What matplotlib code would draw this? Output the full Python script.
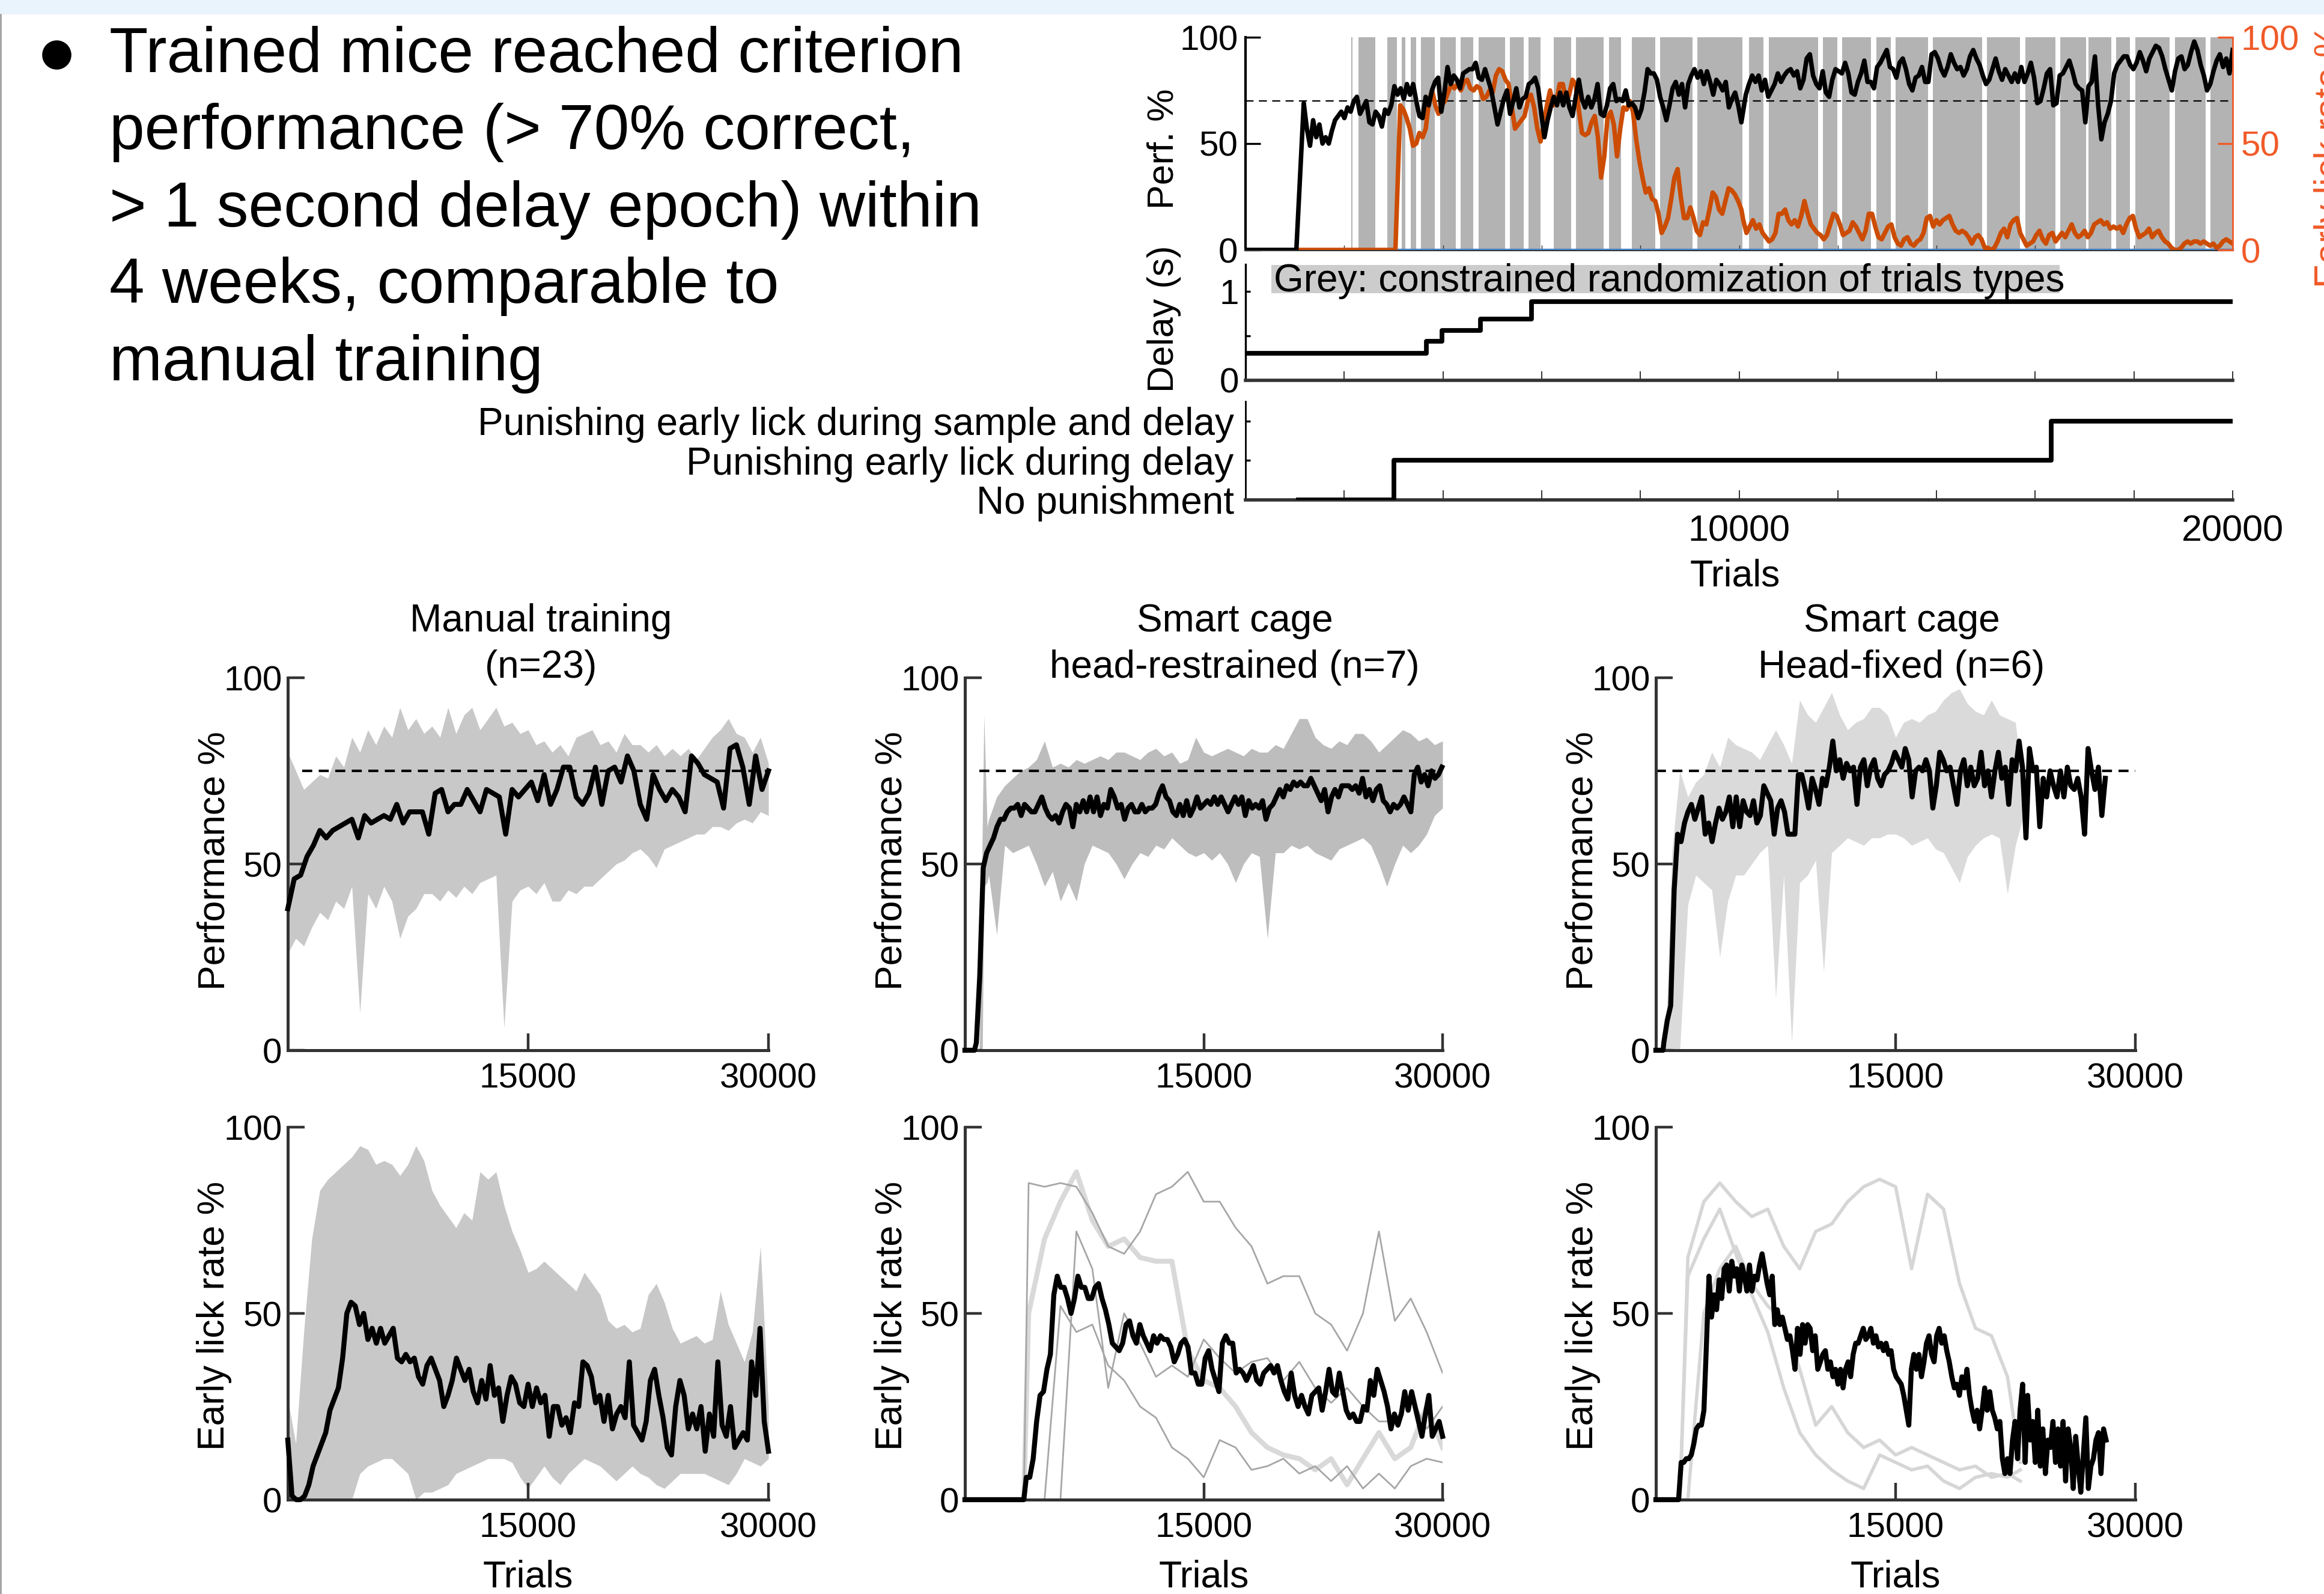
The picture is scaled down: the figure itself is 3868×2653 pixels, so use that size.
import numpy as np
import matplotlib.pyplot as plt
from matplotlib.lines import Line2D
from matplotlib.patches import Rectangle

plt.rcParams['font.family'] = ['Liberation Sans', 'DejaVu Sans']

# ---------------- text ----------------
bullet_lines = ["Trained mice reached criterion",
                "performance (> 70% correct,",
                "> 1 second delay epoch) within",
                "4 weeks, comparable to",
                "manual training"]
grey_note = "Grey: constrained randomization of trials types"
titles = [("Manual training", "(n=23)"),
          ("Smart cage", "head-restrained (n=7)"),
          ("Smart cage", "Head-fixed (n=6)")]

# ---------------- example mouse (top) ----------------
# grey = constrained randomization blocks (trial ranges)
band_start = [2144, 2287, 2874, 3167, 3343, 3558, 3943, 4354, 4719, 5358, 5730, 6245, 6701, 7360, 7822,
              8403, 9153, 10195, 10605, 11694, 12092, 12777, 13168, 13924, 15020, 15802, 16506, 17080,
              17634, 18025, 18834, 19551]
band_end = [2170, 2633, 3069, 3232, 3461, 3839, 4263, 4615, 5254, 5632, 5977, 6603, 7255, 7607, 8305,
            9055, 10071, 10495, 11596, 11994, 12672, 13070, 13826, 14922, 15691, 16408, 17028, 17536,
            17921, 18716, 19447, 20000]

perf_early = [69, 57, 49, 61, 53, 59, 50, 53, 50, 56, 61, 63, 65, 62, 67, 65, 70, 72, 64, 67, 70, 60, 59, 65,
              63, 58, 66, 64, 68, 77, 73, 76, 71, 78, 73, 78, 70, 63, 62, 72, 68, 75, 79, 81, 65, 74, 86, 78,
              82, 80, 76, 83, 84, 85, 85, 88, 81, 80, 85, 80, 75, 67, 59, 65, 71, 75, 64, 70, 76, 67, 71, 72,
              78, 79, 81, 76, 64, 53, 61, 67, 72, 68, 74, 68, 74, 67, 63, 72, 80, 71, 67, 72, 67, 71, 78, 64,
              63, 68, 76, 78, 70, 71, 70, 75, 68, 69, 67, 62, 66, 74, 85, 83, 83, 80, 72, 67, 61, 68, 76, 79,
              73, 78, 67, 78, 82, 85, 81, 84, 78, 84, 79, 73, 80, 78, 75, 79, 67, 71, 74, 68, 60]
perf_late = [73, 78, 82, 79, 82, 75, 80, 72, 75, 78, 83, 79, 82, 84, 85, 82, 84, 76, 80, 90, 92, 82, 78, 76,
             84, 74, 72, 80, 85, 84, 83, 88, 83, 74, 73, 79, 83, 89, 79, 79, 76, 86, 88, 91, 94, 86, 85, 81,
             88, 90, 85, 78, 75, 81, 82, 86, 79, 79, 92, 93, 90, 85, 82, 86, 92, 88, 85, 86, 82, 85, 91, 94,
             90, 87, 82, 78, 80, 85, 90, 84, 80, 85, 82, 79, 83, 79, 86, 79, 83, 88, 81, 69, 70, 76, 83, 85,
             68, 69, 82, 83, 86, 89, 84, 78, 76, 75, 60, 77, 79, 91, 68, 52, 60, 64, 70, 83, 87, 89, 91, 91,
             87, 85, 88, 93, 89, 84, 90, 93, 96, 95, 91, 85, 80, 75, 84, 90, 91, 85, 87, 93, 98, 94, 87, 82,
             75, 78, 84, 89, 92, 86, 90, 83, 94]
lick_early = [68, 66, 62, 57, 49, 50, 55, 53, 57, 70, 75, 68, 64, 68, 70, 74, 78, 76, 78, 75, 79, 80, 76, 75,
              77, 76, 71, 72, 75, 74, 82, 85, 84, 80, 78, 67, 57, 59, 61, 63, 70, 73, 67, 57, 51, 59, 68, 75,
              68, 70, 78, 78, 70, 73, 80, 78, 66, 55, 54, 55, 60, 63, 53, 34, 44, 62, 65, 59, 44, 57, 67, 66,
              70, 65, 52, 42, 34, 27, 29, 24, 23, 17, 8, 11, 15, 24, 34, 38, 25, 15, 15, 20, 15, 9, 7, 13,
              12, 19, 27, 25, 19, 17, 23, 29, 28, 26, 23, 19]
lick_late = [14, 8, 11, 14, 10, 12, 8, 6, 4, 5, 8, 17, 17, 19, 14, 12, 14, 11, 16, 23, 17, 12, 10, 8, 7, 5, 7,
             12, 17, 16, 12, 7, 8, 9, 13, 11, 8, 5, 9, 17, 17, 11, 6, 5, 8, 11, 12, 6, 3, 2, 5, 6, 3, 2, 4, 5,
             8, 15, 16, 11, 14, 12, 14, 15, 16, 12, 9, 8, 9, 8, 6, 3, 6, 7, 5, 1, 1, 0, 1, 4, 8, 10, 6, 12, 14,
             15, 8, 5, 2, 3, 4, 7, 9, 5, 3, 7, 8, 4, 6, 8, 6, 9, 12, 8, 6, 7, 9, 6, 8, 12, 13, 14, 12, 13, 10,
             11, 10, 11, 8, 12, 15, 16, 10, 6, 7, 8, 10, 6, 8, 9, 6, 4, 3, 1, 0, 0, 1, 3, 4, 3, 4, 4, 3, 4, 3,
             2, 3, 1, 2, 4, 5, 4, 3]
# (first trial, last trial, values)
top_perf_segs = [(0, 1030, [0, 0]), (1180, 10046, perf_early), (10136, 20000, perf_late)]
top_lick_segs = [(1030, 3037, [0, 0]), (3135, 10046, lick_early), (10084, 20000, lick_late)]
top_criterion = 70

delay_trials = [0, 3665, 3980, 4760, 5795, 20000]
delay_sec = [0.3, 0.44, 0.56, 0.69, 0.88, 0.88]

pun_trials = [1070, 3005, 16320, 20000]
pun_level = [0, 1, 2, 2]
pun_labels = ["No punishment", "Punishing early lick during delay",
              "Punishing early lick during sample and delay"]

# ---------------- group curves (bottom) ----------------
criterion = 75

man_perf_mean = [38, 46, 47, 52, 55, 59, 57, 59, 60, 61, 62, 57, 63, 61, 62, 63, 62, 66, 61, 64, 64, 64, 58,
                 69, 70, 64, 66, 66, 70, 67, 64, 70, 69, 68, 58, 70, 68, 70, 72, 67, 74, 66, 70, 76, 76, 68,
                 66, 69, 76, 66, 75, 76, 72, 79, 75, 66, 62, 74, 70, 67, 70, 68, 64, 79, 77, 74, 73, 72, 65,
                 81, 82, 76, 66, 79, 70, 75]
man_env_x = list(range(0, 30001, 500))
man_perf_hi = [80, 75, 70, 72, 74, 73, 79, 76, 84, 80, 86, 82, 87, 84, 92, 86, 89, 85, 87, 84, 92, 85, 90, 92,
               86, 89, 92, 87, 88, 85, 86, 82, 83, 80, 82, 79, 84, 85, 86, 82, 83, 80, 85, 82, 82, 80, 82,
               79, 81, 79, 81, 78, 81, 84, 86, 89, 85, 84, 80, 84, 77]
man_perf_lo = [26, 30, 28, 33, 37, 35, 40, 38, 44, 10, 42, 38, 44, 40, 30, 36, 38, 42, 42, 40, 43, 41, 44, 42,
               45, 46, 47, 6, 40, 43, 44, 42, 45, 40, 40, 43, 42, 44, 44, 46, 48, 50, 51, 53, 54, 52, 49, 54,
               55, 56, 57, 58, 58, 60, 60, 59, 61, 62, 61, 64, 63]
man_lick_mean = [16, 1, 0, 0, 1, 4, 9, 12, 15, 18, 24, 27, 30, 38, 50, 53, 52, 47, 50, 43, 46, 42, 46, 42, 44,
                 46, 38, 37, 39, 37, 38, 33, 31, 36, 38, 35, 32, 25, 28, 32, 38, 35, 32, 35, 29, 26, 32, 27,
                 36, 28, 30, 21, 28, 33, 31, 26, 25, 31, 25, 30, 26, 28, 17, 25, 25, 20, 22, 18, 26, 25, 37,
                 36, 33, 26, 28, 21, 28, 19, 23, 25, 22, 37, 20, 18, 16, 21, 32, 35, 28, 22, 14, 12, 25, 32,
                 28, 19, 23, 19, 25, 13, 23, 17, 37, 20, 17, 25, 14, 16, 18, 16, 37, 28, 46, 21, 13]
man_lick_hi = [27, 15, 45, 70, 83, 86, 88, 90, 92, 95, 94, 90, 91, 90, 87, 90, 95, 91, 83, 79, 76, 73, 77, 75,
               88, 86, 88, 79, 72, 67, 61, 62, 64, 62, 60, 58, 56, 61, 58, 55, 48, 46, 47, 45, 46, 55, 58,
               53, 46, 42, 43, 44, 42, 43, 56, 47, 42, 37, 45, 68, 25]
man_lick_lo = [0, 0, 0, 0, 0, 0, 0, 0, 0, 7, 9, 10, 11, 11, 9, 7, 0, 2, 2, 3, 4, 7, 8, 9, 10, 11, 11, 11, 10, 6,
               3, 6, 9, 6, 4, 7, 9, 11, 10, 9, 7, 5, 7, 9, 7, 6, 4, 3, 5, 7, 7, 7, 7, 6, 5, 4, 7, 11, 10, 9,
               11]

hr_perf_mean = [2, 20, 49, 53, 55, 57, 60, 62, 62, 64, 65, 65, 66, 63, 66, 65, 64, 64, 66, 68, 65, 63, 62, 63,
                61, 64, 66, 65, 60, 66, 64, 67, 64, 68, 64, 68, 63, 66, 65, 70, 68, 65, 66, 62, 65, 66, 64,
                64, 66, 64, 65, 65, 66, 69, 71, 68, 67, 64, 63, 66, 63, 67, 63, 65, 68, 65, 66, 67, 66, 68,
                66, 68, 66, 64, 66, 68, 66, 68, 63, 67, 65, 66, 65, 67, 62, 65, 66, 68, 70, 68, 71, 70, 72,
                71, 72, 71, 71, 73, 71, 69, 67, 70, 64, 68, 70, 68, 71, 71, 71, 70, 71, 69, 73, 68, 70, 67,
                70, 71, 67, 66, 64, 66, 65, 66, 68, 66, 64, 74, 76, 72, 74, 71, 75, 73, 74, 76]
hr_env_x = [900, 1100, 1200, 1400] + list(range(1500, 30001, 500))
hr_perf_hi = [0, 60, 90, 60, 62, 68, 71, 73, 75, 76, 78, 83, 76, 77, 76, 78, 77, 78, 79, 78, 80, 80, 79, 78,
              80, 81, 79, 80, 77, 78, 84, 80, 79, 80, 81, 80, 79, 81, 80, 80, 82, 81, 85, 89, 89, 84, 82, 81,
              83, 82, 85, 85, 83, 80, 82, 84, 86, 85, 83, 84, 82, 83]
hr_perf_lo = [0, 0, 44, 45, 47, 31, 55, 53, 54, 55, 50, 44, 48, 40, 45, 40, 50, 55, 54, 53, 50, 46, 50, 53,
              52, 55, 54, 57, 55, 53, 52, 53, 51, 53, 50, 45, 50, 53, 52, 30, 53, 53, 55, 54, 55, 53, 52, 51,
              54, 55, 56, 57, 55, 50, 44, 50, 55, 53, 55, 58, 63, 65]
hr_lick_mean = [6, 6, 11, 21, 28, 29, 35, 39, 55, 60, 57, 57, 54, 50, 54, 60, 57, 57, 54, 54, 57, 58, 54, 51,
                47, 42, 41, 40, 42, 47, 48, 44, 42, 47, 44, 42, 40, 44, 42, 44, 43, 43, 41, 37, 39, 42, 43,
                41, 34, 34, 31, 31, 38, 40, 35, 32, 29, 42, 44, 42, 42, 34, 35, 34, 32, 34, 36, 32, 31, 34,
                35, 36, 34, 36, 32, 29, 27, 34, 28, 25, 28, 25, 23, 28, 29, 30, 24, 29, 35, 29, 28, 34, 29,
                24, 22, 23, 21, 21, 25, 24, 32, 28, 35, 32, 29, 25, 19, 23, 20, 23, 29, 24, 29, 25, 21, 17,
                23, 28, 17, 19, 21, 17]
hr_lick_grey_x = [3700] + list(range(4000, 30001, 1000))
hr_lick_grey = [
    [0, 85, 84, 85, 84, 77, 68, 66, 72, 82, 84, 88, 80, 80, 73, 68, 58, 60, 60, 50, 47, 40, 50, 72, 48, 54, 45, 34],
    [0, 0, 0, 52, 45, 47, 36, 32, 25, 22, 14, 11, 6, 16, 14, 8, 9, 11, 7, 9, 5, 9, 3, 7, 3, 9, 11, 10],
    [0, 0, 0, 0, 72, 62, 30, 50, 42, 33, 36, 33, 43, 38, 34, 37, 38, 32, 37, 30, 26, 30, 25, 21, 21, 28, 19, 25],
]
hr_lick_grey_light = [0, 50, 70, 80, 88, 75, 68, 70, 65, 64, 64, 40, 32, 30, 25, 18, 14, 12, 11, 8, 11, 4, 11,
                      18, 11, 14, 25, 14]

hf_perf_mean = [2, 8, 12, 43, 58, 56, 61, 64, 66, 62, 65, 68, 58, 61, 56, 61, 65, 62, 64, 68, 60, 68, 60, 67,
                64, 63, 67, 61, 63, 71, 69, 67, 58, 65, 67, 64, 58, 58, 58, 74, 74, 70, 65, 73, 70, 66, 73,
                71, 76, 83, 75, 78, 73, 77, 75, 76, 66, 76, 78, 71, 76, 78, 73, 71, 74, 75, 77, 80, 78, 76,
                81, 78, 68, 75, 76, 75, 78, 75, 65, 71, 80, 78, 75, 76, 71, 66, 75, 78, 71, 76, 71, 73, 80,
                71, 75, 68, 75, 80, 73, 76, 66, 78, 75, 83, 76, 57, 81, 75, 76, 60, 73, 68, 75, 71, 68, 75,
                68, 76, 71, 70, 73, 68, 58, 81, 75, 70, 76, 63, 73]
hf_env_x = [600] + list(range(1000, 23001, 500))
hf_perf_hi = [0, 53, 75, 68, 72, 74, 80, 76, 84, 82, 81, 80, 78, 82, 86, 82, 77, 94, 90, 88, 92, 96, 90, 86, 88,
              89, 92, 92, 90, 84, 88, 89, 88, 90, 91, 94, 96, 97, 93, 91, 90, 94, 90, 89, 88, 70]
hf_perf_lo = [0, 0, 0, 39, 47, 45, 43, 25, 40, 47, 47, 50, 53, 55, 14, 47, 2, 45, 47, 51, 21, 53, 55, 57, 56,
              55, 57, 57, 58, 58, 57, 55, 56, 57, 54, 53, 49, 45, 52, 55, 57, 58, 57, 42, 55, 63]
hf_lick_mean = [10, 10, 11, 11, 12, 15, 19, 20, 20, 24, 42, 60, 49, 55, 51, 59, 54, 62, 63, 56, 64, 60, 62, 56,
                63, 60, 56, 63, 56, 60, 59, 63, 66, 62, 58, 55, 60, 47, 51, 47, 49, 46, 43, 44, 40, 35, 46,
                39, 47, 42, 47, 46, 40, 44, 35, 37, 39, 40, 35, 37, 33, 35, 31, 35, 30, 35, 37, 33, 39, 42,
                42, 44, 46, 43, 44, 46, 42, 44, 41, 42, 40, 42, 39, 40, 35, 33, 32, 31, 28, 24, 20, 35, 39,
                35, 39, 33, 37, 42, 44, 39, 37, 44, 46, 42, 44, 40, 37, 33, 30, 31, 28, 33, 30, 35, 28, 24,
                21, 24, 19, 24, 30, 24, 29, 24, 22, 19, 21, 11, 7, 11, 7, 16, 21, 11, 24, 31, 10, 28, 16, 21,
                10, 24, 9, 19, 7, 16, 14, 21, 10, 19, 9, 21, 5, 19, 14, 3, 17, 9, 2, 12, 22, 3, 9, 11, 16, 18,
                7, 19, 16]
hf_lick_grey_x = [1500, 2000] + list(range(3000, 22001, 1000)) + [22800]
hf_lick_grey = [
    [0, 65, 80, 85, 80, 76, 78, 68, 62, 72, 74, 80, 84, 86, 84, 62, 82, 78, 58, 46, 44, 33, 10],
    [0, 60, 70, 78, 66, 55, 45, 30, 18, 12, 8, 5, 3, 12, 10, 8, 9, 5, 3, 6, 7, 6, 8],
    [0, 0, 50, 62, 68, 58, 52, 48, 35, 20, 25, 18, 14, 16, 12, 14, 12, 10, 8, 9, 6, 7, 5],
]

man_perf_segs = [(0, 30000, man_perf_mean)]
man_lick_segs = [(0, 30000, man_lick_mean)]
hr_perf_segs = [(0, 600, [0, 0]), (715, 29956, hr_perf_mean)]
hr_lick_segs = [(0, 3700, [0, 0]), (3855, 30000, hr_lick_mean)]
hf_perf_segs = [(0, 450, [0, 0]), (496, 28120, hf_perf_mean)]
hf_lick_segs = [(0, 1420, [0, 0]), (1583, 28169, hf_lick_mean)]

# ---------------- figure ----------------
W, H, DPI = 3868, 2653, 200
fig = plt.figure(figsize=(W / DPI, H / DPI), dpi=DPI)
ORANGE_LINE = '#cc4c02'
ORANGE_AX = '#f05a28'
DARK = '#333333'
MEAN_LW = 3.0


def px(x, y):
    return x / W, 1 - y / H


def box(l, t, r, b):
    return [l / W, 1 - b / H, (r - l) / W, (b - t) / H]


def series(segs):
    xs = [np.linspace(a, b, len(v)) for a, b, v in segs]
    ys = [np.asarray(v, float) for a, b, v in segs]
    return np.concatenate(xs), np.concatenate(ys)


# slide decoration
fig.patches.append(Rectangle((0, 1 - 24 / H), 1, 24 / H, transform=fig.transFigure,
                             facecolor='#eaf4fc', edgecolor='none', zorder=0))
fig.add_artist(Line2D([0.0003, 0.0003], [0, 1 - 24 / H], transform=fig.transFigure, color='#a0a0a0', lw=1))

# bullet text
fig.add_artist(Line2D([94 / W], [1 - 91 / H], transform=fig.transFigure, marker='o', markersize=16.5,
                      color='black', lw=0))
for line, base in zip(bullet_lines, [120, 248, 377, 504, 633]):
    fig.text(*px(182, base), line, fontsize=38, va='baseline', ha='left')

# ---- top: performance / early lick ----
ax1 = fig.add_axes(box(2073, 62, 3716, 416))
for s, e in zip(band_start, band_end):
    ax1.axvspan(s, e, color='#b3b3b3', lw=0, zorder=0)
ax1.axhline(top_criterion, color='black', lw=0.8, dashes=(6, 4), zorder=3)
ax1.axhline(0.4, color='#4a90e2', lw=1.0, zorder=3)
x, y = series(top_lick_segs)
ax1.plot(x, y, color=ORANGE_LINE, lw=2.7, zorder=4)
x, y = series(top_perf_segs)
ax1.plot(x, y, color='black', lw=2.7, zorder=5)
ax1.set_xlim(0, 20000)
ax1.set_ylim(0, 100)
ax1.set_yticks([0, 50, 100])
ax1.set_xticks(range(2000, 20001, 2000))
ax1.set_xticklabels([])
ax1.tick_params(axis='y', direction='in', length=9, width=1.2, color='black', labelsize=21, pad=4.5)
ax1.tick_params(axis='x', direction='in', length=3, width=0.5, color=DARK)
for s in ('top', 'right'):
    ax1.spines[s].set_visible(False)
ax1.spines['left'].set_linewidth(1.5)
ax1.spines['bottom'].set_color(DARK)
ax1.spines['bottom'].set_linewidth(1.5)
fig.text(*px(1937, 248), "Perf. %", rotation=90, fontsize=22, ha='center', va='center')

ax1b = ax1.twinx()
ax1b.set_ylim(0, 100)
ax1b.set_yticks([0, 50, 100])
for s in ('top', 'left', 'bottom'):
    ax1b.spines[s].set_visible(False)
ax1b.spines['right'].set_color(ORANGE_AX)
ax1b.spines['right'].set_linewidth(1.0)
ax1b.tick_params(axis='y', direction='in', length=9, width=1.2, color=ORANGE_AX, labelcolor=ORANGE_AX,
                 labelsize=21, pad=5)
# the slide crops this label at its right edge, as in the original
fig.text(*px(3880, 260), "Early lick rate %", rotation=90, fontsize=22, color=ORANGE_AX,
         ha='center', va='center')

# ---- middle: delay ----
ax2 = fig.add_axes(box(2073, 440, 3716, 633))
ax2.step(delay_trials, delay_sec, where='post', color='black', lw=2.8, zorder=4)
ax2.set_xlim(0, 20000)
ax2.set_ylim(0, 1.3)
ax2.set_yticks([0, 0.5, 1])
ax2.set_yticklabels(['0', '', '1'])
ax2.set_xticks(range(2000, 20001, 2000))
ax2.set_xticklabels([])
ax2.tick_params(axis='y', direction='in', length=3, width=1.2, labelsize=21, pad=4)
ax2.tick_params(axis='x', direction='in', length=5.4, width=0.7, color=DARK)
for s in ('top', 'right'):
    ax2.spines[s].set_visible(False)
ax2.spines['left'].set_linewidth(1.2)
ax2.spines['bottom'].set_color(DARK)
ax2.spines['bottom'].set_linewidth(2)
fig.text(*px(1937, 531), "Delay (s)", rotation=90, fontsize=22, ha='center', va='center')
fig.patches.append(Rectangle(px(2116, 488), 1312 / W, 47 / H, transform=fig.transFigure,
                             facecolor='#cccccc', edgecolor='none', zorder=5))
fig.text(*px(2120, 485), grey_note, fontsize=23, ha='left', va='baseline', zorder=6)

# ---- bottom: punishment ----
ax3 = fig.add_axes(box(2073, 668, 3716, 832))
ax3.step(pun_trials, pun_level, where='post', color='black', lw=2.8, zorder=4)
ax3.set_xlim(0, 20000)
ax3.set_ylim(0, 2.5)
ax3.set_yticks([0, 1, 2])
ax3.set_yticklabels(pun_labels)
xt = list(range(2000, 20001, 2000))
ax3.set_xticks(xt)
ax3.set_xticklabels([str(t) if t in (10000, 20000) else '' for t in xt])
ax3.tick_params(axis='y', direction='in', length=3, width=1.2, labelsize=23, pad=7)
ax3.tick_params(axis='x', direction='in', length=5.8, width=0.7, color=DARK, labelsize=22, pad=9)
for s in ('top', 'right'):
    ax3.spines[s].set_visible(False)
ax3.spines['left'].set_linewidth(1.0)
ax3.spines['bottom'].set_color(DARK)
ax3.spines['bottom'].set_linewidth(2)
fig.text(*px(2888, 976), "Trials", fontsize=22.5, ha='center', va='baseline')

# ---- group panels ----
cols = [(479, 1279), (1606, 2401), (2756, 3554)]
rows = [(1128, 1748), (1876, 2496)]
title_x = [900, 2055, 3165]


def style(ax):
    ax.set_xlim(0, 30000)
    ax.set_ylim(0, 100)
    ax.set_xticks([15000, 30000])
    ax.set_yticks([0, 50, 100])
    for s in ('top', 'right'):
        ax.spines[s].set_visible(False)
    for s in ('left', 'bottom'):
        ax.spines[s].set_color(DARK)
        ax.spines[s].set_linewidth(1.8)
    ax.tick_params(direction='in', length=10, width=1.6, color=DARK, labelsize=21)
    ax.tick_params(axis='x', pad=7.5)
    ax.tick_params(axis='y', pad=3.5)
    ax.patch.set_alpha(0)


perf_panels = [
    (man_perf_segs, man_env_x, man_perf_hi, man_perf_lo, '#c8c8c8', 900),
    (hr_perf_segs, hr_env_x, hr_perf_hi, hr_perf_lo, '#bdbdbd', 900),
    (hf_perf_segs, hf_env_x, hf_perf_hi, hf_perf_lo, '#dadada', 0),
]
for i, (segs, ex, hi, lo, gc, c0) in enumerate(perf_panels):
    l, r = cols[i]
    ax = fig.add_axes(box(l, rows[0][0], r, rows[0][1]))
    style(ax)
    ax.fill_between(ex, lo, hi, color=gc, lw=0, zorder=1)
    ax.hlines(criterion, c0, 30000, color='black', lw=1.5, linestyles=(0, (4, 2.6)), zorder=2)
    x, y = series(segs)
    ax.plot(x, y, color='black', lw=MEAN_LW, zorder=3, clip_on=False)
    fig.text(*px(title_x[i], 1051), titles[i][0], fontsize=23, ha='center', va='baseline')
    fig.text(*px(title_x[i], 1128), titles[i][1], fontsize=23, ha='center', va='baseline')
    fig.text(*px(l - 122, 1433), "Performance %", rotation=90, fontsize=22.5, ha='center', va='center')

# early lick: manual
ax = fig.add_axes(box(cols[0][0], rows[1][0], cols[0][1], rows[1][1]))
style(ax)
ax.fill_between(man_env_x, man_lick_lo, man_lick_hi, color='#c8c8c8', lw=0, zorder=1)
x, y = series(man_lick_segs)
ax.plot(x, y, color='black', lw=MEAN_LW, zorder=3, clip_on=False)

# early lick: head-restrained
ax = fig.add_axes(box(cols[1][0], rows[1][0], cols[1][1], rows[1][1]))
style(ax)
ax.plot(hr_lick_grey_x, hr_lick_grey_light, color='#d9d9d9', lw=3, zorder=1)
for tr in hr_lick_grey:
    ax.plot(hr_lick_grey_x, tr, color='#a6a6a6', lw=1, zorder=1)
x, y = series(hr_lick_segs)
ax.plot(x, y, color='black', lw=MEAN_LW, zorder=3, clip_on=False)

# early lick: head-fixed
ax = fig.add_axes(box(cols[2][0], rows[1][0], cols[2][1], rows[1][1]))
style(ax)
for tr in hf_lick_grey:
    ax.plot(hf_lick_grey_x, tr, color='#d6d6d6', lw=2, zorder=1)
x, y = series(hf_lick_segs)
ax.plot(x, y, color='black', lw=MEAN_LW, zorder=3, clip_on=False)

for i, (l, r) in enumerate(cols):
    fig.text(*px(l - 122, 2190), "Early lick rate %", rotation=90, fontsize=22.5, ha='center', va='center')
    fig.text(*px((l + r) / 2, 2641), "Trials", fontsize=22.5, ha='center', va='baseline')

fig.savefig('out.png', dpi=DPI)
